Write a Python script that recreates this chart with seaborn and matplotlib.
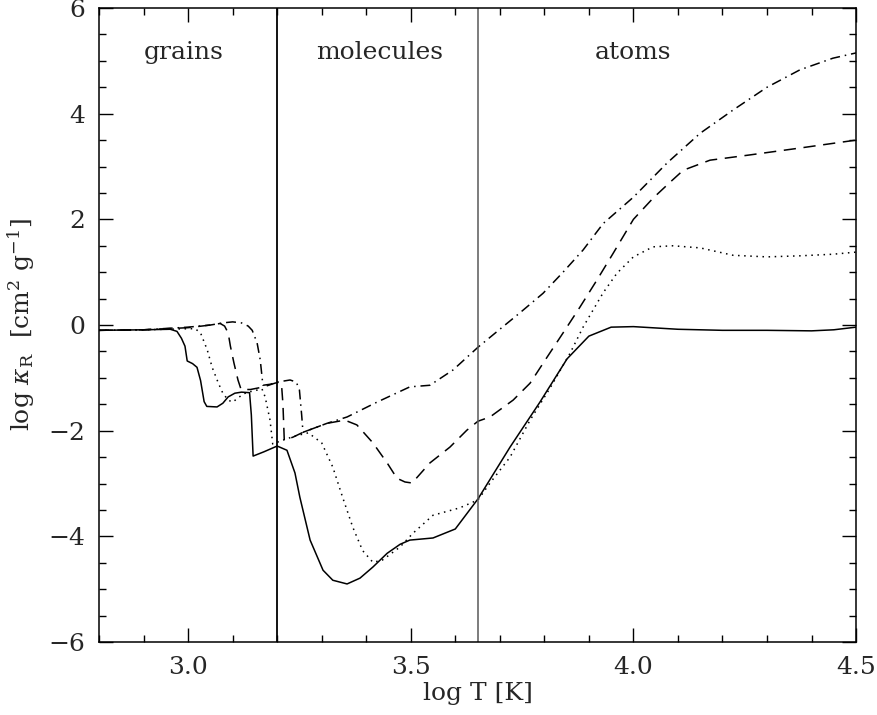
import seaborn as sns
import matplotlib.pyplot as plt
from matplotlib.ticker import MultipleLocator
import pandas as pd

# log T [K] and log kappa_R for the four curves
solid_T = [2.80, 2.90, 2.96, 2.975, 2.985, 2.993, 2.998, 3.010, 3.020, 3.028, 3.036, 3.042,
           3.065, 3.078, 3.090, 3.105, 3.120, 3.138, 3.142, 3.146, 3.170, 3.200, 3.222,
           3.240, 3.251, 3.274, 3.303, 3.325, 3.357, 3.386, 3.415, 3.447, 3.476, 3.498,
           3.550, 3.600, 3.651, 3.723, 3.790, 3.851, 3.900, 3.950, 4.000, 4.100, 4.200,
           4.300, 4.400, 4.450, 4.500]
solid_k = [-0.10, -0.09, -0.08, -0.12, -0.25, -0.40, -0.68, -0.73, -0.80, -1.05, -1.45, -1.54,
           -1.55, -1.48, -1.36, -1.29, -1.27, -1.28, -1.70, -2.48, -2.40, -2.29, -2.37,
           -2.80, -3.26, -4.07, -4.64, -4.83, -4.90, -4.79, -4.58, -4.32, -4.15, -4.07,
           -4.03, -3.86, -3.29, -2.31, -1.46, -0.64, -0.21, -0.04, -0.03, -0.08, -0.10,
           -0.10, -0.11, -0.09, -0.04]

dotted_T = [2.80, 2.90, 3.00, 3.016, 3.028, 3.043, 3.054, 3.068, 3.078, 3.090, 3.100, 3.112,
            3.125, 3.140, 3.166, 3.173, 3.184, 3.190, 3.206, 3.240, 3.270, 3.300, 3.325,
            3.347, 3.370, 3.392, 3.415, 3.436, 3.476, 3.505, 3.550, 3.610, 3.651, 3.678,
            3.723, 3.768, 3.813, 3.858, 3.887, 3.932, 3.963, 4.000, 4.044, 4.089, 4.150,
            4.224, 4.300, 4.374, 4.448, 4.500]
dotted_k = [-0.10, -0.09, -0.07, -0.07, -0.15, -0.47, -0.80, -1.10, -1.29, -1.42, -1.46, -1.38,
            -1.30, -1.26, -1.21, -1.36, -1.80, -2.25, -2.20, -2.10, -2.04, -2.23, -2.69,
            -3.26, -3.83, -4.27, -4.49, -4.45, -4.20, -3.94, -3.60, -3.46, -3.31, -2.99,
            -2.50, -1.80, -1.19, -0.53, -0.04, 0.61, 0.98, 1.29, 1.48, 1.50, 1.46,
            1.32, 1.29, 1.31, 1.34, 1.38]

dashed_T = [2.80, 2.90, 3.00, 3.050, 3.072, 3.082, 3.090, 3.095, 3.103, 3.112, 3.119, 3.140,
            3.170, 3.195, 3.205, 3.210, 3.213, 3.216, 3.236, 3.258, 3.312, 3.352, 3.379,
            3.415, 3.447, 3.469, 3.487, 3.503, 3.543, 3.588, 3.626, 3.651, 3.678, 3.730,
            3.768, 3.806, 3.842, 3.880, 3.918, 3.954, 4.000, 4.044, 4.082, 4.112, 4.172,
            4.262, 4.374, 4.500]
dashed_k = [-0.10, -0.09, -0.05, 0.00, 0.03, -0.02, -0.15, -0.40, -0.72, -1.04, -1.22, -1.22,
            -1.17, -1.10, -1.08, -1.15, -1.50, -2.18, -2.12, -2.03, -1.86, -1.80, -1.89,
            -2.23, -2.61, -2.90, -2.97, -2.99, -2.61, -2.31, -1.99, -1.82, -1.74, -1.42,
            -1.10, -0.61, -0.15, 0.34, 0.85, 1.35, 2.00, 2.40, 2.70, 2.93, 3.12,
            3.22, 3.35, 3.50]

dashdot_T = [2.80, 2.90, 3.00, 3.050, 3.078, 3.100, 3.120, 3.135, 3.144, 3.155, 3.162, 3.168,
             3.185, 3.200, 3.229, 3.243, 3.250, 3.255, 3.258, 3.312, 3.357, 3.424, 3.498,
             3.543, 3.595, 3.651, 3.700, 3.745, 3.797, 3.842, 3.887, 3.932, 4.000, 4.076,
             4.150, 4.224, 4.300, 4.374, 4.448, 4.500]
dashdot_k = [-0.10, -0.09, -0.04, 0.00, 0.04, 0.06, 0.04, -0.02, -0.10, -0.34, -0.66, -1.14,
             -1.12, -1.08, -1.04, -1.08, -1.23, -1.70, -2.03, -1.86, -1.74, -1.46, -1.17,
             -1.14, -0.85, -0.42, -0.08, 0.23, 0.60, 1.00, 1.42, 1.92, 2.42, 3.07,
             3.63, 4.07, 4.50, 4.83, 5.05, 5.15]

region_names = ["grains", "molecules", "atoms"]
region_x = [2.99, 3.43, 4.0]
boundaries = [3.2, 3.65]

sns.set_style("ticks")
plt.rcParams["font.family"] = ["DejaVu Serif"]
plt.rcParams["mathtext.fontset"] = "dejavuserif"

fig = plt.figure(figsize=(8.78, 7.15), dpi=100)
ax = fig.add_axes([0.1128, 0.102, 0.8622, 0.8868])

curves = [
    (solid_T, solid_k, "-"),
    (dotted_T, dotted_k, (0, (1, 3))),
    (dashed_T, dashed_k, (0, (8, 5))),
    (dashdot_T, dashdot_k, (0, (6.5, 3.2, 1, 3.2))),
]
for T, k, ls in curves:
    df = pd.DataFrame({"logT": T, "logk": k})
    sns.lineplot(data=df, x="logT", y="logk", ax=ax, color="black", lw=1.1,
                 linestyle=ls, sort=False, estimator=None)

ax.axvline(boundaries[0], color="black", lw=1.3)
ax.axvline(boundaries[1], color="0.35", lw=1.1)

for name, x in zip(region_names, region_x):
    ax.text(x, 5.15, name, ha="center", va="center", fontsize=18)

ax.set_xlim(2.8, 4.5)
ax.set_ylim(-6, 6)
ax.xaxis.set_major_locator(MultipleLocator(0.5))
ax.xaxis.set_minor_locator(MultipleLocator(0.1))
ax.yaxis.set_major_locator(MultipleLocator(2))
ax.yaxis.set_minor_locator(MultipleLocator(0.5))
ax.set_xticks([3.0, 3.5, 4.0, 4.5])
ax.set_xticklabels(["3.0", "3.5", "4.0", "4.5"])
ax.set_yticks([-6, -4, -2, 0, 2, 4, 6])
ax.set_yticklabels(["\u22126", "\u22124", "\u22122", "0", "2", "4", "6"])
ax.tick_params(which="both", direction="in", top=True, right=True, labelsize=18,
               width=1.0, color="black")
ax.tick_params(which="major", length=10, pad=10)
ax.tick_params(which="minor", length=5)
for s in ax.spines.values():
    s.set_linewidth(1.1)
    s.set_color("black")

ax.set_xlabel("log T [K]", fontsize=18, labelpad=2)
ax.set_ylabel(r"log $\kappa_{\rm R}$  [cm$^2$ g$^{-1}$]", fontsize=18, labelpad=8)

fig.savefig("out.png", dpi=100)
